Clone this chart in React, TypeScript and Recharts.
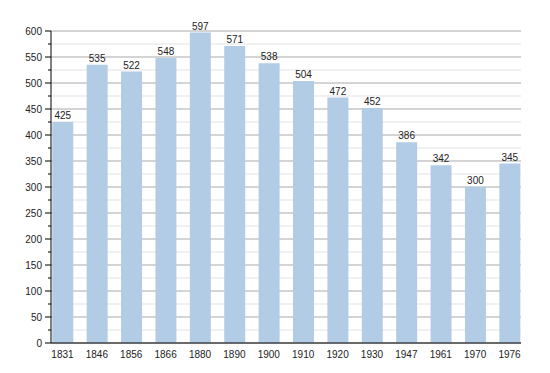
import { BarChart, Bar, XAxis, YAxis, CartesianGrid, LabelList } from "recharts";

const years = ["1831", "1846", "1856", "1866", "1880", "1890", "1900", "1910", "1920", "1930", "1947", "1961", "1970", "1976"];
const population = [425, 535, 522, 548, 597, 571, 538, 504, 472, 452, 386, 342, 300, 345];
const yTicks = [0, 25, 50, 75, 100, 125, 150, 175, 200, 225, 250, 275, 300, 325, 350, 375, 400, 425, 450, 475, 500, 525, 550, 575, 600];

const data = years.map((year, i) => ({ idx: i, year, pop: population[i] }));
const xTicks = years.map((_, i) => i);

const FONT = "'Liberation Sans', Arial, sans-serif";

function YTick(props: any) {
  const { x, y, payload } = props;
  const major = payload.value % 50 === 0;
  return (
    <g>
      <line x1={x - (major ? 6 : 3)} x2={x} y1={y} y2={y} stroke="#000" />
      {major && (
        <text x={x - 9} y={y} dy="0.35em" textAnchor="end" fontSize={10} fill="#222" fontFamily={FONT}>
          {payload.value}
        </text>
      )}
    </g>
  );
}

// grid lines follow the y ticks: even index = multiple of 50
function GridLine(props: any) {
  const { x1, x2, y1, y2, index } = props;
  const major = yTicks[index] % 50 === 0;
  return <line x1={x1} x2={x2} y1={y1} y2={y2} stroke={major ? "#a9a9a9" : "#e3e3e3"} />;
}

export default function App() {
  return (
    <div style={{ position: "absolute", left: 0, top: 0, background: "#fff" }}>
      <BarChart width={550} height={373} data={data} margin={{ top: 31, right: 29, bottom: 0, left: 0 }}>
        <CartesianGrid vertical={false} horizontal={(p: any) => <GridLine key={p.key} {...p} />} />
        <XAxis
          type="number"
          dataKey="idx"
          domain={[-1 / 3, 13 + 1 / 3]}
          ticks={xTicks}
          interval={0}
          allowDataOverflow
          tickFormatter={(i) => years[i]}
          tickLine={false}
          axisLine={{ stroke: "#000" }}
          height={30}
          tickMargin={2}
          tick={{ fontSize: 10, fill: "#222", fontFamily: FONT }}
        />
        <YAxis
          domain={[0, 600]}
          ticks={yTicks}
          interval={0}
          width={51}
          tickSize={0}
          tickMargin={0}
          tickLine={false}
          axisLine={{ stroke: "#000" }}
          tick={<YTick />}
        />
        <Bar dataKey="pop" fill="#b3cce6" barSize={21} isAnimationActive={false}>
          <LabelList dataKey="pop" position="top" offset={3} fontSize={10} fill="#222" fontFamily={FONT} />
        </Bar>
      </BarChart>
    </div>
  );
}
